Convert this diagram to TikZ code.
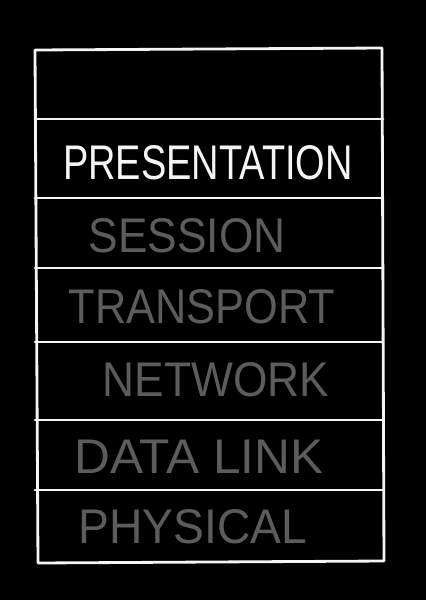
\documentclass[tikz,border=0pt]{standalone}
\usepackage{fontspec}
\usepackage{tikz}
\newfontfamily\handfont{Liberation Sans}
\definecolor{chalk}{RGB}{245,245,245}
\definecolor{dimchalk}{RGB}{92,92,92}
\tikzset{
  layer/.style={inner sep=0pt, font=\handfont\fontsize{34.6}{36}\selectfont, transform shape},
  rule/.style={draw=chalk, line width=2pt, line cap=round, line join=round}
}

\begin{document}
\begin{tikzpicture}[x=0.025cm, y=-0.025cm]
\fill[black] (0,0) rectangle (426,600);
\useasboundingbox (0,0) rectangle (426,600);

% frame corners
\coordinate (tl) at (35,50);
\coordinate (tr) at (382,48);
\coordinate (bl) at (38,563);
\coordinate (br) at (384,561);
\draw[rule] (tl) -- (tr) -- (br) -- (bl) -- cycle;

% layer separators
\foreach \y in {119,198,268,342,420,490} {
  \draw[rule] (35,\y) -- (383,\y);
}

\node[layer, text=chalk, xscale=0.78] (pres) at (208,163) {PRESENTATION};
\node[layer, text=dimchalk, xscale=0.91] (sess) at (187,236) {SESSION};
\node[layer, text=dimchalk, xscale=0.89] (trans) at (202,307) {TRANSPORT};
\node[layer, text=dimchalk, xscale=0.91] (net) at (216,380) {NETWORK};
\node[layer, text=dimchalk, xscale=1.02] (link) at (199,457) {DATA LINK};
\node[layer, text=dimchalk, xscale=0.95] (phys) at (193,527) {PHYSICAL};
\end{tikzpicture}
\end{document}
